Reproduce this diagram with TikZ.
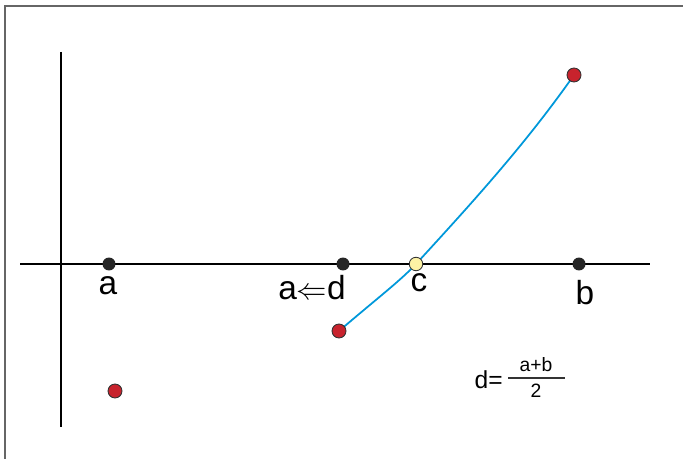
\documentclass[tikz,border=0pt]{standalone}
\usepackage{fontspec}
\setmainfont{Liberation Sans}
\usetikzlibrary{positioning,backgrounds}

\definecolor{dotred}{RGB}{200,35,45}
\definecolor{dotyellow}{RGB}{252,242,165}
\definecolor{curveblue}{RGB}{0,152,218}

\tikzset{
  blackdot/.style={circle, fill=black!85, inner sep=0pt, minimum size=0.26cm},
  reddot/.style={circle, fill=dotred, draw=black!80, line width=0.5pt, inner sep=0pt, minimum size=0.28cm},
  yellowdot/.style={circle, fill=dotyellow, draw=black!80, line width=0.5pt, inner sep=0pt, minimum size=0.27cm},
  axislabel/.style={anchor=base, inner sep=0pt, font=\fontsize{19}{22}\selectfont},
  fracpart/.style={anchor=base, inner sep=0pt, font=\fontsize{11}{13}\selectfont}
}

\begin{document}
\begin{tikzpicture}[x=0.02cm, y=-0.02cm]
\useasboundingbox (0,0) rectangle (683,459);

% frame
\draw [black!60, line width=0.9pt] (5,459) -- (5,6) -- (683,6);

% axes
\begin{scope}[line width=1.1pt]
\draw (20,264) -- (650,264);
\draw (61,52) -- (61,427);
\end{scope}

\node [blackdot]  (a) at (109,264) {};
\node [blackdot]  (d) at (343,264) {};
\node [yellowdot] (c) at (416,264) {};
\node [blackdot]  (b) at (579,264) {};

\node [reddot] (fb) at (574,75) {};
\node [reddot] (fa) at (339,331) {};
\node [reddot] (fl) at (115,391) {};

\node [axislabel] (la) at (108,295) {a};
\node [axislabel] (ld) at (312,299) {a$\Leftarrow$d};
\node [axislabel] (lc) at (419,292) {c};
\node [axislabel] (lb) at (585,304) {b};

% midpoint formula
\node [anchor=base east, inner sep=0pt, font=\fontsize{14}{16}\selectfont] (deq) at (503,388) {d=};
\node [fracpart] (num) at (536,371) {a+b};
\node [fracpart] (den) at (536,397) {2};
\draw [black!80, line width=0.6pt] (508,378) -- (565,378);

% curve through c
\begin{scope}[on background layer]
\draw [curveblue, line width=1pt] (fa.center) .. controls (380,296) and (400,281) .. (c.center)
  .. controls (470,205) and (525,145) .. (fb.center);
\end{scope}

\end{tikzpicture}
\end{document}
